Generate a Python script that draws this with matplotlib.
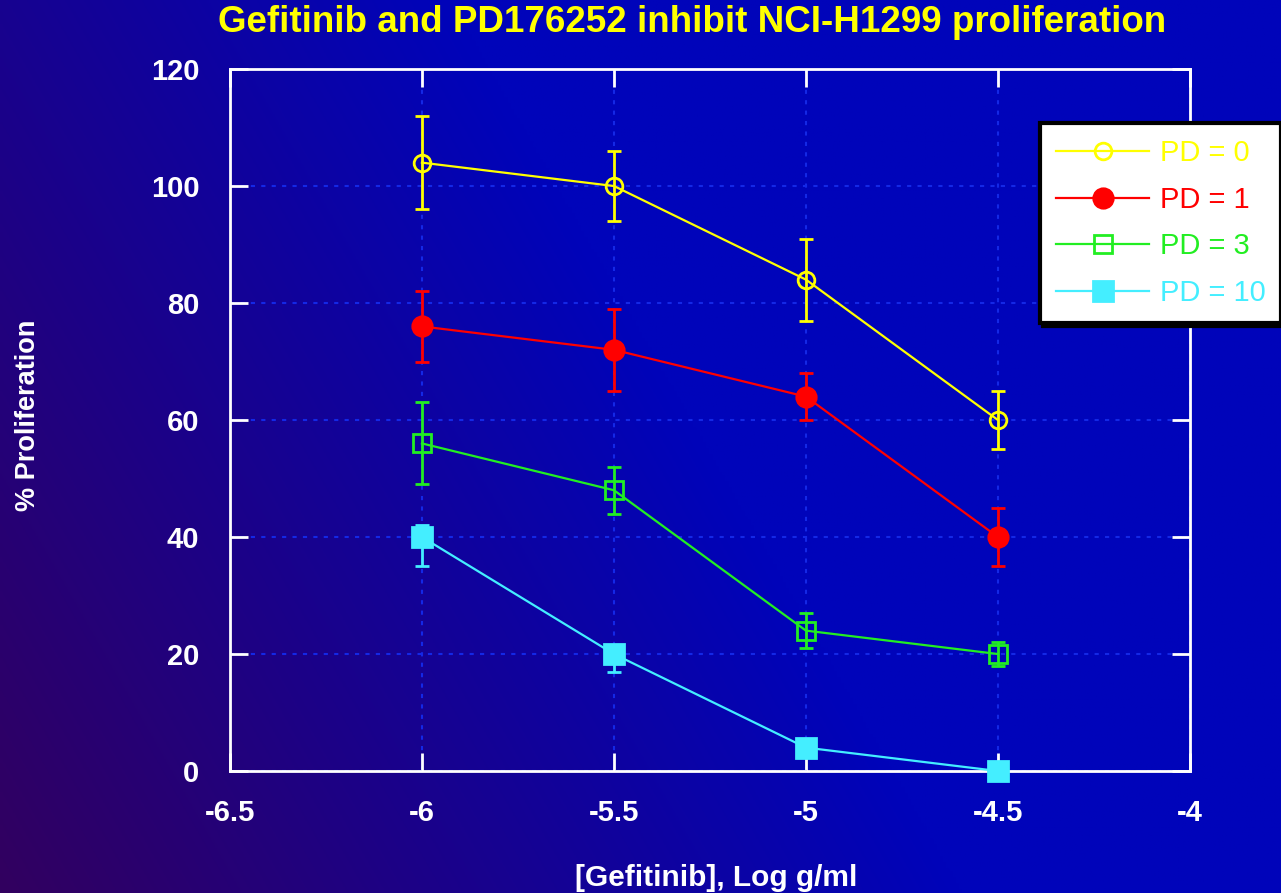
import matplotlib
matplotlib.use('Agg')
import matplotlib.pyplot as plt
import numpy as np

plt.rcParams['font.family'] = ['Liberation Sans', 'DejaVu Sans']

# gefitinib dose, log g/ml
dose = [-6, -5.5, -5, -4.5]

pd0 = [104, 100, 84, 60]
pd0_lo = [8, 6, 7, 5]
pd0_hi = [8, 6, 7, 5]

pd1 = [76, 72, 64, 40]
pd1_lo = [6, 7, 4, 5]
pd1_hi = [6, 7, 4, 5]

pd3 = [56, 48, 24, 20]
pd3_lo = [7, 4, 3, 2]
pd3_hi = [7, 4, 3, 2]

pd10 = [40, 20, 4, 0]
pd10_lo = [5, 3, 0.5, 0.5]
pd10_hi = [2, 0.5, 0.5, 0.5]

labels = ['PD = 0', 'PD = 1', 'PD = 3', 'PD = 10']
colors = ['#ffff00', '#ff0000', '#22ee22', '#44eeff']

fig = plt.figure(figsize=(12.81, 8.93), dpi=100)

# diagonal purple -> blue background
bg = fig.add_axes([0, 0, 1, 1], zorder=-10)
gx, gy = np.meshgrid(np.linspace(0, 1, 400), np.linspace(1, 0, 300))
u = np.clip((gx + 0.4 * gy) / 0.75, 0, 1)[..., None]
c0 = np.array([50, 0, 95]) / 255
c1 = np.array([0, 4, 186]) / 255
bg.imshow(c0 * (1 - u) + c1 * u, aspect='auto', extent=[0, 1, 0, 1])
bg.axis('off')

ax = fig.add_axes([0.1795, 0.1366, 0.7494, 0.7861])
ax.patch.set_alpha(0)

series = [
    (pd0, pd0_lo, pd0_hi, 'o', 'none', 12),
    (pd1, pd1_lo, pd1_hi, 'o', 'full', 14),
    (pd3, pd3_lo, pd3_hi, 's', 'none', 13),
    (pd10, pd10_lo, pd10_hi, 's', 'full', 14),
]
for (y, lo, hi, m, fs, ms), col, lab in zip(series, colors, labels):
    ax.errorbar(dose, y, yerr=[lo, hi], fmt='none', ecolor=col,
                elinewidth=2, capsize=4.7, capthick=2, zorder=3)
    ax.plot(dose, y, color=col, lw=1.6, marker=m, fillstyle=fs,
            markersize=ms, markeredgewidth=2, markeredgecolor=col,
            label=lab, zorder=4, clip_on=False)

ax.set_xlim(-6.5, -4)
ax.set_ylim(0, 120)
ax.set_xticks(np.arange(-6.5, -3.9, 0.5))
ax.set_xticklabels(['-6.5', '-6', '-5.5', '-5', '-4.5', '-4'])
ax.set_yticks(range(0, 121, 20))

ax.grid(True, color='#1428e6', linestyle=(0, (2, 3)), lw=1.5)
for s in ax.spines.values():
    s.set_color('white')
    s.set_linewidth(2)
ax.tick_params(direction='in', length=13, width=2, color='white',
               top=True, right=True, labelcolor='white', labelsize=21)
ax.tick_params(axis='x', pad=20)
ax.tick_params(axis='y', pad=22)
for t in ax.get_xticklabels() + ax.get_yticklabels():
    t.set_fontweight('bold')

fig.text(692 / 1281, 1 - 22 / 893,
         'Gefitinib and PD176252 inhibit NCI-H1299 proliferation',
         color='#ffff00', fontsize=26.5, fontweight='bold', ha='center', va='center')
fig.text(28 / 1281, 1 - 415 / 893, '% Proliferation', color='white',
         fontsize=19.5, fontweight='bold', rotation=90, ha='center', va='center')
fig.text(716 / 1281, 1 - 878 / 893, '[Gefitinib], Log g/ml', color='white',
         fontsize=21.5, fontweight='bold', ha='center', va='center')

leg = ax.legend(loc='upper left', bbox_to_anchor=(1040 / 1281, 1 - 123 / 893),
                bbox_transform=fig.transFigure, fontsize=21, fancybox=False,
                shadow={'color': 'black', 'alpha': 1}, framealpha=1,
                edgecolor='black', facecolor='white', handlelength=3.2,
                handletextpad=0.35, labelspacing=0.64, borderpad=0.55,
                borderaxespad=0)
leg.get_frame().set_linewidth(3)
for txt, col in zip(leg.get_texts(), colors):
    txt.set_color(col)

fig.savefig('out.png', dpi=100)
